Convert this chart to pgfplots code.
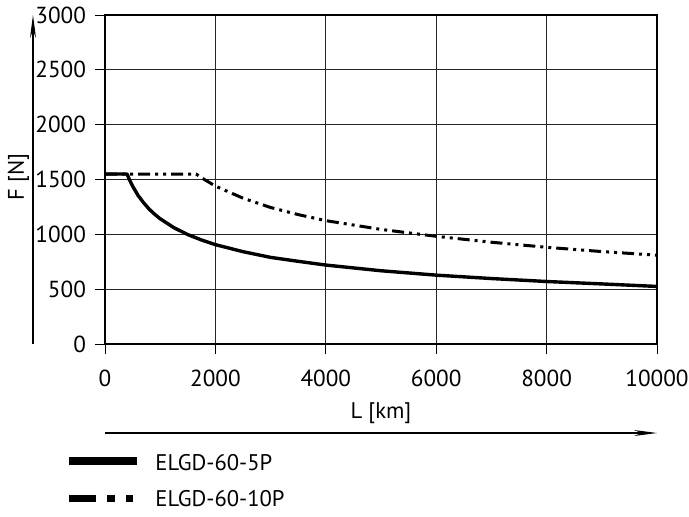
\documentclass[border=0pt]{standalone}
\usepackage{fontspec}
\setmainfont{PT Sans}
\usepackage{pgfplots}
\pgfplotsset{compat=1.18}
\usetikzlibrary{arrows.meta}

\begin{document}
\begin{tikzpicture}
% page frame: 689 x 516 px at 0.5pt per px
\useasboundingbox (-52.5pt,-86pt) rectangle (292pt,172pt);
\begin{axis}[
  scale only axis,
  width=276pt, height=164.5pt,
  xmin=0, xmax=10000, ymin=0, ymax=3000,
  xtick={0,2000,...,10000},
  ytick={0,500,...,3000},
  xtick pos=bottom, ytick pos=left,
  tick align=outside,
  major tick length=5pt,
  tick style={black, line width=0.5pt},
  grid=major,
  grid style={black!85, line width=0.5pt},
  axis line style={line width=0.6pt},
  scaled x ticks=false, scaled y ticks=false,
  /pgf/number format/assume math mode=true,
  /pgf/number format/set thousands separator={},
  ticklabel style={font=\fontsize{11.6}{13}\selectfont},
  xticklabel style={yshift=-4.5pt},
  yticklabel style={xshift=-1pt},
  xlabel={L [km]},
  ylabel={F [N]},
  label style={font=\fontsize{11.3}{13}\selectfont},
  xlabel style={at={(axis description cs:0.5,-0.2097)}, anchor=center},
  ylabel style={at={(axis description cs:-0.157,0.5076)}, anchor=center},
  legend style={at={(axis description cs:-0.0832,-0.31)}, anchor=north west,
    draw=none, fill=none, font=\fontsize{11.3}{13}\selectfont,
    column sep=5pt, row sep=4.5pt},
  legend cell align=left,
]
% ELGD-60-5P
\addplot[black, line width=1.7pt, line join=round,
  legend image code/.code={\draw[black, line width=4pt] (0pt,1.5pt) -- (34pt,1.5pt);}]
  coordinates {
  (0,1550) (400,1550) (450,1490) (500,1440) (600,1354) (700,1288) (800,1230)
  (900,1183) (1000,1142) (1250,1060) (1500,998) (1750,948) (2000,906)
  (2500,842) (3000,790) (3500,754) (4000,720) (5000,668) (6000,628)
  (7000,597) (8000,570) (9000,548) (10000,525)};
\addlegendentry{ELGD-60-5P}
% ELGD-60-10P
\addplot[black, line width=1.5pt,
  dash pattern=on 6pt off 2.5pt on 1.5pt off 2.5pt on 1.5pt off 2.5pt,
  legend image code/.code={\draw[black, line width=3.5pt,
    dash pattern=on 13.5pt off 5.5pt on 4pt off 5.5pt on 3.5pt off 5.5pt]
    (0pt,1pt) -- (34pt,1pt);}]
  coordinates {
  (0,1550) (1650,1550) (1800,1500) (2000,1440) (2500,1330) (3000,1245)
  (3500,1180) (4000,1125) (5000,1045) (6000,982) (7000,928) (8000,882)
  (9000,843) (10000,810)};
\addlegendentry{ELGD-60-10P}
\end{axis}
% axis arrows
\draw[line width=0.6pt, -{Stealth[length=11.5pt,width=3pt]}] (0pt,-44.5pt) -- (276pt,-44.5pt);
\draw[line width=0.6pt, -{Stealth[length=11.5pt,width=3pt]}] (-36pt,0pt) -- (-36pt,164.5pt);
\end{tikzpicture}
\end{document}
